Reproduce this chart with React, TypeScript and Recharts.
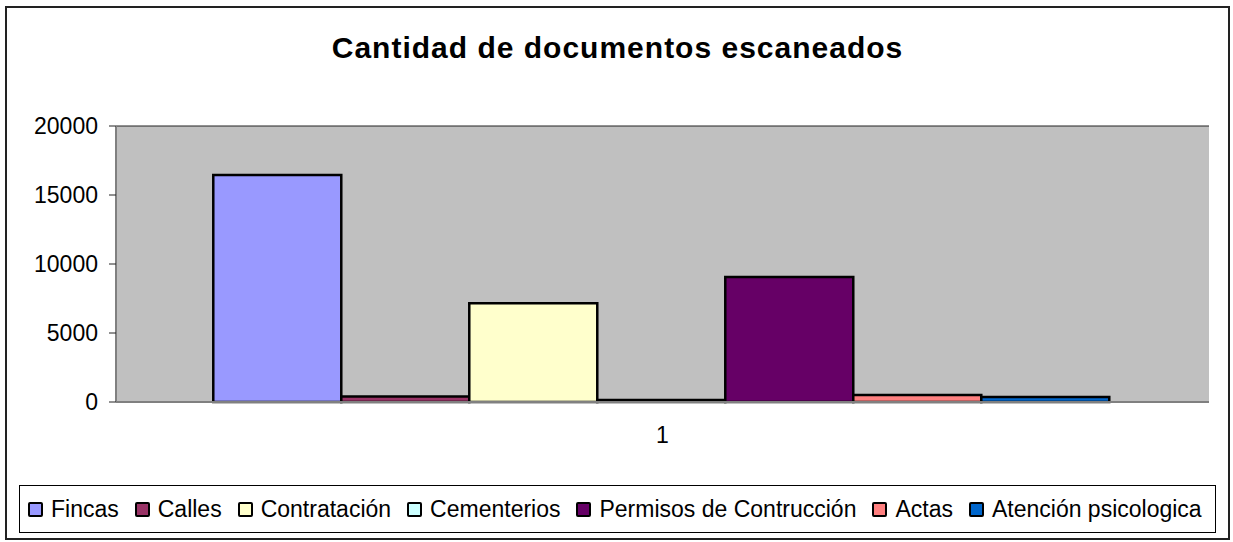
import { Bar, BarChart, CartesianGrid, Legend, XAxis, YAxis } from "recharts";

const categories = ["1"];
const seriesNames = [
  "Fincas",
  "Calles",
  "Contratación",
  "Cementerios",
  "Permisos de Contrucción",
  "Actas",
  "Atención psicologica",
];
const seriesValues = [16450, 400, 7150, 150, 9050, 500, 360];
const seriesColors = ["#9999FF", "#993366", "#FFFFCC", "#CCFFFF", "#660066", "#FF8080", "#0066CC"];
const yTicks = [0, 5000, 10000, 15000, 20000];

const FONT = '"Liberation Sans", Arial, sans-serif';

const data = categories.map((c) => {
  const row: Record<string, string | number> = { name: c };
  seriesNames.forEach((s, i) => {
    row[s] = seriesValues[i];
  });
  return row;
});

function LegendBox() {
  return (
    <div
      style={{
        boxSizing: "border-box",
        width: "100%",
        height: "100%",
        border: "1px solid #000",
        display: "flex",
        alignItems: "center",
        paddingLeft: 8,
        fontFamily: FONT,
        fontSize: 23,
        color: "#000",
        whiteSpace: "nowrap",
      }}
    >
      {seriesNames.map((s, i) => (
        <span key={s} style={{ display: "flex", alignItems: "center", marginRight: 16, flexShrink: 0 }}>
          <span
            style={{
              display: "inline-block",
              boxSizing: "border-box",
              width: 15,
              height: 15,
              background: seriesColors[i],
              border: "2.5px solid #000",
              borderRadius: 2,
              marginRight: 8,
            }}
          />
          {s}
        </span>
      ))}
    </div>
  );
}

export default function App() {
  return (
    <div style={{ position: "absolute", left: 0, top: 0, width: 1233, height: 542, background: "#fff" }}>
      <div
        style={{
          position: "absolute",
          left: 5,
          top: 6,
          width: 1225,
          height: 534,
          boxSizing: "border-box",
          border: "2px solid #222",
        }}
      />
      <div
        style={{
          position: "absolute",
          left: 5,
          top: 29,
          width: 1225,
          textAlign: "center",
          fontFamily: FONT,
          fontWeight: "bold",
          fontSize: 30,
          letterSpacing: 1,
          lineHeight: "38px",
          color: "#000",
        }}
      >
        Cantidad de documentos escaneados
      </div>
      <div style={{ position: "absolute", left: 0, top: 0 }}>
        <BarChart
          width={1233}
          height={542}
          data={data}
          margin={{ top: 126, right: 24, left: 16, bottom: 80 }}
          barCategoryGap="8.9%"
          barGap={0}
        >
          <CartesianGrid vertical={false} fill="#C0C0C0" stroke="#222" fillOpacity={1} />
          <XAxis
            dataKey="name"
            height={60}
            tickLine={false}
            tickSize={0}
            tickMargin={25}
            axisLine={{ stroke: "#808080", strokeWidth: 2 }}
            tick={{ fill: "#000", fontSize: 23, fontFamily: FONT }}
          />
          <YAxis
            yAxisId="left"
            width={100}
            domain={[0, 20000]}
            ticks={yTicks}
            interval={0}
            tickSize={7}
            tickMargin={11}
            axisLine={{ stroke: "#808080", strokeWidth: 2 }}
            tickLine={{ stroke: "#222" }}
            tick={{ fill: "#000", fontSize: 23, fontFamily: FONT }}
          />
          <YAxis
            yAxisId="right"
            orientation="right"
            width={0}
            domain={[0, 20000]}
            tick={false}
            tickLine={false}
            axisLine={{ stroke: "#808080", strokeWidth: 2 }}
          />
          {seriesNames.map((s, i) => (
            <Bar
              key={s}
              yAxisId="left"
              dataKey={s}
              fill={seriesColors[i]}
              stroke="#000"
              strokeWidth={2.5}
              isAnimationActive={false}
            />
          ))}
          <Legend
            layout="horizontal"
            verticalAlign="middle"
            align="center"
            content={() => <LegendBox />}
            wrapperStyle={{ left: 19, top: 485, width: 1197, height: 48 }}
          />
        </BarChart>
      </div>
    </div>
  );
}
